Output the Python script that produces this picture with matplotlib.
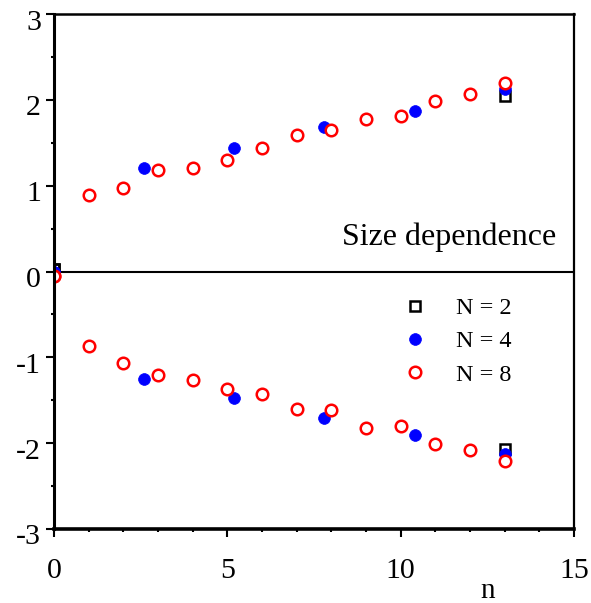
import matplotlib
matplotlib.use('Agg')
import matplotlib.pyplot as plt
from matplotlib.ticker import MultipleLocator
import matplotlib.transforms as mtransforms

plt.rcParams['font.family'] = ['Liberation Serif', 'DejaVu Serif']

# ---- data ----
n8 = list(range(0, 14))
n8_upper = [-0.05, 0.889, 0.972, 1.178, 1.208, 1.303, 1.441, 1.591, 1.650,
            1.775, 1.807, 1.992, 2.070, 2.200]
n8_lower = [-0.05, -0.866, -1.065, -1.203, -1.264, -1.372, -1.433, -1.602,
            -1.613, -1.828, -1.801, -2.015, -2.077, -2.210]
n4 = [0, 2.6, 5.2, 7.8, 10.4, 13]
n4_upper = [0, 1.205, 1.444, 1.681, 1.866, 2.122]
n4_lower = [0, -1.257, -1.479, -1.709, -1.900, -2.130]
n2 = [0, 13]
n2_upper = [0.03, 2.043]
n2_lower = [0.03, -2.065]

labels = ['N = 2', 'N = 4', 'N = 8']
xticks = [0, 5, 10, 15]
xticklabels = ['0', '5', '10', '15']
yticks = [-3, -2, -1, 0, 1, 2, 3]
yticklabels = ['-3', '-2', '-1', '0', '1', '2', '3']

W, H = 591, 603
fig = plt.figure(figsize=(W / 100, H / 100), dpi=100)
ax = fig.add_axes([54 / W, 1 - 529 / H, 520 / W, 515 / H])
ax.set_xlim(0, 15)
ax.set_ylim(-3, 3)

# series
sq = dict(marker='s', linestyle='none', mfc='none', mec='black', ms=7.5, mew=1.8)
bl = dict(marker='o', linestyle='none', mfc='blue', mec='blue', ms=8.5, mew=0.5)
rd = dict(marker='o', linestyle='none', mfc='white', mec='red', ms=8.3, mew=1.8)

h2, = ax.plot(n2, n2_upper, **sq)
ax.plot(n2, n2_lower, **sq)
h4, = ax.plot(n4, n4_upper, **bl)
ax.plot(n4, n4_lower, **bl)
h8, = ax.plot(n8, n8_upper, **rd)
ax.plot(n8, n8_lower, **rd)

ax.axhline(0, color='black', lw=1.5, zorder=1)

# spines
ax.spines['left'].set_linewidth(2.2)
ax.spines['top'].set_linewidth(1.8)
ax.spines['right'].set_linewidth(1.6)
ax.spines['bottom'].set_linewidth(2.6)

# ticks
ax.set_xticks(xticks)
ax.set_yticks(yticks)
ax.xaxis.set_minor_locator(MultipleLocator(1))
ax.yaxis.set_minor_locator(MultipleLocator(0.5))
ax.tick_params(axis='both', which='both', direction='out', labelleft=False,
               labelbottom=False, top=False, right=False)
ax.tick_params(axis='y', which='major', length=5.8, width=1.5)
ax.tick_params(axis='y', which='minor', length=2.2, width=1.5)
ax.tick_params(axis='x', which='major', length=5.5, width=1.5)
ax.tick_params(axis='x', which='minor', length=2.5, width=1.5)

# tick labels as text
ytrans = mtransforms.blended_transform_factory(ax.transAxes, ax.transData) + \
    mtransforms.ScaledTranslation(-13 / 100, -15.5 / 100, fig.dpi_scale_trans)
for v, s in zip(yticks, yticklabels):
    ax.text(0, v, s, transform=ytrans, ha='right', va='baseline',
            fontsize=21.5, clip_on=False)
xtrans = mtransforms.blended_transform_factory(ax.transData, ax.transAxes) + \
    mtransforms.ScaledTranslation(0, -49 / 100, fig.dpi_scale_trans)
for v, s in zip(xticks, xticklabels):
    ax.text(v, 0, s, transform=xtrans, ha='center', va='baseline',
            fontsize=21.5, clip_on=False)

fig.text(488 / W, 1 - 598 / H, 'n', ha='center', va='baseline', fontsize=21)
fig.text(342 / W, 1 - 245 / H, 'Size dependence', ha='left', va='baseline',
         fontsize=23)

ax.legend([h2, h4, h8], labels, loc='upper left', frameon=False,
          bbox_to_anchor=(402.5 / W, 1 - 297 / H), bbox_transform=fig.transFigure,
          borderpad=0, borderaxespad=0, handlelength=1.0, handletextpad=1.2,
          labelspacing=0.47, fontsize=17.5)

fig.savefig('out.png', dpi=100)
